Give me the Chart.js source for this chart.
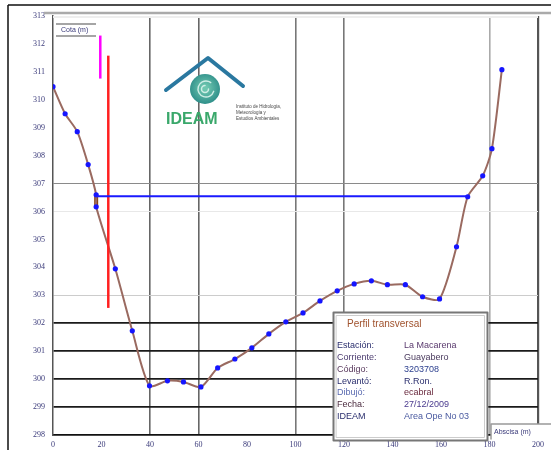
<!DOCTYPE html>
<html><head><meta charset="utf-8">
<script src="https://cdn.jsdelivr.net/npm/chart.js@4"></script>
<style>html,body{margin:0;padding:0;background:#fff}</style>
</head><body>
<canvas id="c" width="551" height="450"></canvas>
<script>
// Profile (abscisa m, cota m)
const abscisa = [0,5,10,14.5,17.8,17.8,25.7,32.7,39.8,47.2,53.8,61,67.9,75,82,89,96,103.1,110.1,117.2,124.2,131.3,137.9,145.3,152.4,159.4,166.4,171,177.2,181,185.1];
const cota = [310.47,309.5,308.86,307.68,306.6,306.17,303.95,301.73,299.76,299.94,299.9,299.72,300.4,300.72,301.12,301.62,302.05,302.37,302.8,303.16,303.41,303.52,303.38,303.38,302.95,302.87,304.74,306.53,307.28,308.25,311.08];
// Water level
const aguaX = [17.8, 171];
const aguaY = [306.55, 306.55];
// Staff gauges
const miraMagentaX = [19.5, 19.5];
const miraMagentaY = [310.76, 312.3];
const miraRojaX = [22.8, 22.8];
const miraRojaY = [302.55, 311.58];
// Marker segment
const marcaX = [17.8, 17.8];
const marcaY = [306.6, 306.17];
// Axis ranges
const yMin = 298, yMax = 313, xMin = 0, xMax = 200, xStep = 20;
// Info box
const infoTitulo = "Perfil transversal";
const infoEtiquetas = ["Estación:", "Corriente:", "Código:", "Levantó:", "Dibujó:", "Fecha:", "IDEAM"];
const infoValores = ["La Macarena", "Guayabero", "3203708", "R.Ron.", "ecabral", "27/12/2009", "Area Ope No 03"];

const pts = (xs, ys) => xs.map((x, i) => ({x, y: ys[i]}));

const yGrid = {307:['#8a8a8a',1], 306:['#e8e8e8',1], 303:['#cccccc',1], 302:['#1a1a1a',1.8], 301:['#1a1a1a',1.8], 300:['#1a1a1a',1.8], 299:['#1a1a1a',1.8]};
const xGrid = {40:['#666',1.6], 60:['#666',1.6], 100:['#777',1.6], 120:['#777',1.6], 180:['#aaa',1.6], 200:['#555',2.2]};

const deco = {
  id: 'deco',
  beforeDraw(chart) {
    const c = chart.ctx;
    c.save();
    c.fillStyle = '#fff'; c.fillRect(0,0,551,450);
    c.restore();
  },
  afterDraw(chart) {
    const c = chart.ctx;
    c.save();
    // outer frame
    c.strokeStyle = '#111'; c.lineWidth = 1.5;
    c.beginPath(); c.moveTo(8,5); c.lineTo(551,5); c.moveTo(8,5); c.lineTo(8,450); c.stroke();
    c.strokeStyle = '#aaa'; c.lineWidth = 2.5;
    c.beginPath(); c.moveTo(44,13); c.lineTo(551,13); c.stroke();
    c.strokeStyle = '#eee'; c.lineWidth = 2;
    c.beginPath(); c.moveTo(53,17); c.lineTo(538,17); c.stroke();

    // Cota label box
    c.strokeStyle = '#888'; c.lineWidth = 1.5;
    c.beginPath(); c.moveTo(56,24); c.lineTo(96,24); c.moveTo(56,36); c.lineTo(96,36); c.stroke();
    c.fillStyle = '#3a3a7a'; c.font = '7px "Liberation Sans"'; c.textBaseline = 'middle';
    c.fillText('Cota (m)', 61, 30.5);

    // Logo
    c.strokeStyle = '#2a78a0'; c.lineWidth = 4; c.lineJoin = 'round'; c.lineCap = 'round';
    c.beginPath(); c.moveTo(166,90); c.lineTo(208,58); c.lineTo(243,86); c.stroke();
    const g = c.createRadialGradient(205,88,2,205,88,16);
    g.addColorStop(0,'#6fc7b0'); g.addColorStop(1,'#2f8f8a');
    c.fillStyle = g;
    c.beginPath(); c.arc(205,89,15,0,Math.PI*2); c.fill();
    c.strokeStyle = '#cfeee6'; c.lineWidth = 1.5;
    c.beginPath(); c.arc(206,89,8,0.3,Math.PI*1.7); c.stroke();
    c.beginPath(); c.arc(205,89,3.5,0,Math.PI*1.5); c.stroke();
    c.fillStyle = '#3aa86b'; c.font = 'bold 16px "Liberation Sans"'; c.textBaseline = 'alphabetic';
    c.fillText('IDEAM', 166, 124);
    c.fillStyle = '#444'; c.font = '4.5px "Liberation Sans"';
    c.fillText('Instituto de Hidrología,', 236, 108);
    c.fillText('Meteorología y', 236, 114);
    c.fillText('Estudios Ambientales', 236, 120);

    // Info box
    c.fillStyle = '#fff';
    c.fillRect(333, 312, 155, 129);
    c.strokeStyle = '#777'; c.lineWidth = 2;
    c.strokeRect(333.5, 312.5, 154, 128);
    c.strokeStyle = '#ccc'; c.lineWidth = 1;
    c.strokeRect(336.5, 315.5, 148, 122);
    c.fillStyle = '#a0522d'; c.font = '10px "Liberation Sans"'; c.textBaseline = 'middle';
    c.fillText(infoTitulo, 347, 324);
    c.font = '9px "Liberation Sans"';
    const rowsY = [346,358,370,382,393,405,417];
    const labCol = ['#2b2f6e','#4a3a6e','#5a3a5e','#2b2f6e','#5a6ab0','#4a2a3e','#2b2f6e'];
    const valCol = ['#5a3a6e','#4a3a5e','#2b3f8e','#2b2f6e','#6a2a3e','#4a3a8e','#4a5aa0'];
    infoEtiquetas.forEach((t,i) => { c.fillStyle = labCol[i]; c.fillText(t, 337, rowsY[i]); });
    infoValores.forEach((t,i) => { c.fillStyle = valCol[i]; c.fillText(t, 404, rowsY[i]); });

    // Abscisa box
    c.fillStyle = '#fff'; c.fillRect(491, 424, 60, 15);
    c.strokeStyle = '#999'; c.lineWidth = 1.5;
    c.beginPath(); c.moveTo(491,439); c.lineTo(491,424); c.lineTo(551,424); c.stroke();
    c.fillStyle = '#3a3a7a'; c.font = '7px "Liberation Sans"';
    c.fillText('Abscisa (m)', 494, 432);
    c.restore();
  }
};

new Chart(document.getElementById('c'), {
  type: 'line',
  data: {
    datasets: [
      { data: pts(aguaX, aguaY), borderColor: '#1a1aff', borderWidth: 2, pointRadius: 0, tension: 0 },
      { data: pts(miraMagentaX, miraMagentaY), borderColor: '#ff00ff', borderWidth: 2.5, pointRadius: 0, tension: 0 },
      { data: pts(miraRojaX, miraRojaY), borderColor: '#ff2020', borderWidth: 2.5, pointRadius: 0, tension: 0 },
      { data: pts(abscisa, cota), borderColor: '#9a6a60', borderWidth: 2, tension: 0.25,
        pointRadius: 2.6, pointBackgroundColor: '#1515ff', pointBorderColor: '#1515ff', pointBorderWidth: 0 },
      { data: pts(marcaX, marcaY), borderColor: '#8b4513', borderWidth: 4, pointRadius: 0, tension: 0 }
    ]
  },
  options: {
    responsive: false, animation: false, devicePixelRatio: 1,
    layout: { padding: { left: 0, top: 16, right: 13, bottom: 0 } },
    plugins: { legend: { display: false }, tooltip: { enabled: false } },
    scales: {
      x: {
        type: 'linear', min: xMin, max: xMax,
        afterFit(s) { s.height = 15; },
        border: { color: '#111', width: 1.8 },
        grid: {
          drawTicks: false,
          color: ctx => (xGrid[ctx.tick.value] || ['rgba(0,0,0,0)',1])[0],
          lineWidth: ctx => (xGrid[ctx.tick.value] || ['',1])[1]
        },
        ticks: { stepSize: xStep, padding: 5, color: '#3a3a7a', font: { family: 'Liberation Serif', size: 8 } }
      },
      y: {
        type: 'linear', min: yMin, max: yMax,
        afterFit(s) { s.width = 53; },
        border: { color: '#555', width: 1.5 },
        grid: {
          drawTicks: false,
          color: ctx => (yGrid[ctx.tick.value] || ['rgba(0,0,0,0)',1])[0],
          lineWidth: ctx => (yGrid[ctx.tick.value] || ['',1])[1]
        },
        ticks: { stepSize: 1, padding: 8, color: '#3a3a7a', font: { family: 'Liberation Serif', size: 8 } }
      }
    }
  },
  plugins: [deco]
});
</script>
</body></html>
